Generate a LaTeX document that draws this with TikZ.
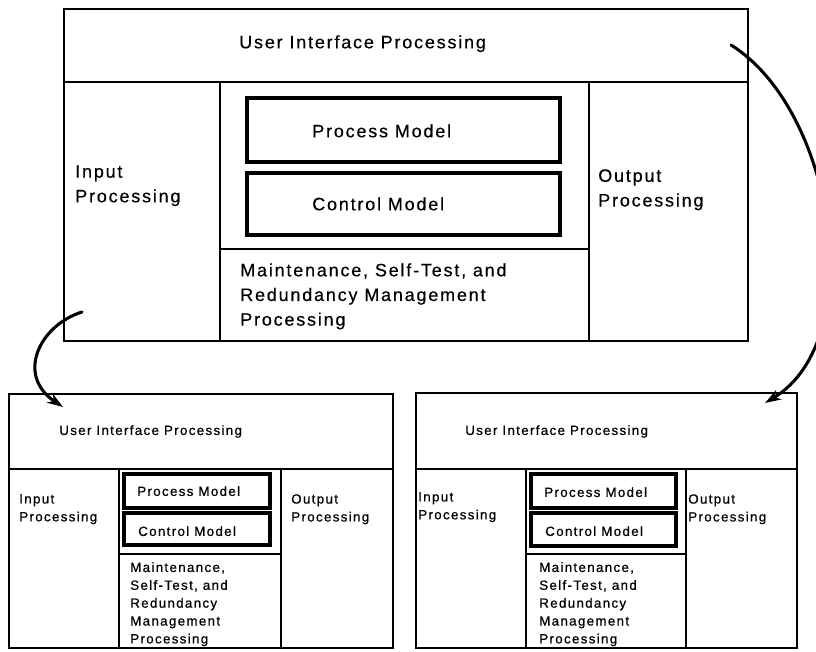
\documentclass[tikz,border=0pt]{standalone}
\usepackage{fontspec}
\setmainfont{Liberation Sans}[LetterSpace=10.0]
\newfontfamily\diagbig{Liberation Sans}[LetterSpace=10.0, FakeBold=0.4]
\newfontfamily\diagsmall{Liberation Sans}[LetterSpace=10.0, FakeBold=0.7]
\usetikzlibrary{fit,arrows.meta}
\begin{document}
\begin{tikzpicture}[x=0.75pt,y=-0.75pt,
  cell/.style={draw, line width=1.5pt, inner sep=0pt},
  model/.style={draw, line width=2.3pt, inner sep=0pt},
  bigtxt/.style={anchor=north west, inner sep=0pt, align=left,
    font=\diagbig\fontsize{13.5}{18.5}\selectfont},
  smalltxt/.style={anchor=north west, inner sep=0pt, align=left,
    font=\diagsmall\fontsize{10}{13.4}\selectfont},
  flow/.style={line width=2.3pt, line cap=round,
    -{Stealth[length=12pt,width=8pt]}}]
\useasboundingbox (0,0) rectangle (816,652);

% ---------- full-size software architecture ----------
\node[cell, fit={(64,9) (748,341)}] (A) {};
\node[cell, fit={(64,9) (748,82)}] (Aui) {};
\node[cell, fit={(64,82) (220,341)}] (Ain) {};
\node[cell, fit={(220,82) (589,249)}] (Acore) {};
\node[cell, fit={(220,249) (589,341)}] (Amnt) {};
\node[cell, fit={(589,82) (748,341)}] (Aout) {};
\node[model, fit={(247,98) (560,162)}] (Aproc) {};
\node[model, fit={(247,173) (560,235)}] (Actl) {};

\node[bigtxt] (Auit) at (239,35) {User Interface Processing};
\node[bigtxt] (Aint) at (75,165) {Input\\Processing};
\node[bigtxt] (Aoutt) at (598,169) {Output\\Processing};
\node[bigtxt] (Aproct) at (312,124) {Process Model};
\node[bigtxt] (Actlt) at (312,197) {Control Model};
\node[bigtxt] (Amntt) at (240,263) {Maintenance, Self-Test, and\\Redundancy Management\\Processing};

% ---------- left copy ----------
\node[cell, fit={(9,394) (393,648)}] (B) {};
\node[cell, fit={(9,394) (393,469)}] (Bui) {};
\node[cell, fit={(9,469) (119,648)}] (Bin) {};
\node[cell, fit={(119,469) (281,554)}] (Bcore) {};
\node[cell, fit={(119,554) (281,648)}] (Bmnt) {};
\node[cell, fit={(281,469) (393,648)}] (Bout) {};
\node[model, fit={(124,474) (270,508)}] (Bproc) {};
\node[model, fit={(124,513) (270,545)}] (Bctl) {};

\node[smalltxt] (Buit) at (59,425) {User Interface Processing};
\node[smalltxt] (Bint) at (19,494) {Input\\Processing};
\node[smalltxt] (Boutt) at (291,494) {Output\\Processing};
\node[smalltxt] (Bproct) at (137,486) {Process Model};
\node[smalltxt] (Bctlt) at (138,526) {Control Model};
\node[smalltxt] (Bmntt) at (130,562) {Maintenance,\\Self-Test, and\\Redundancy\\Management\\Processing};

% ---------- right copy ----------
\node[cell, fit={(416,393) (797,648)}] (C) {};
\node[cell, fit={(416,393) (797,469)}] (Cui) {};
\node[cell, fit={(416,469) (526,648)}] (Cin) {};
\node[cell, fit={(526,469) (686,554)}] (Ccore) {};
\node[cell, fit={(526,554) (686,648)}] (Cmnt) {};
\node[cell, fit={(686,469) (797,648)}] (Cout) {};
\node[model, fit={(531,474) (676,508)}] (Cproc) {};
\node[model, fit={(531,513) (676,546)}] (Cctl) {};

\node[smalltxt] (Cuit) at (465,425) {User Interface Processing};
\node[smalltxt] (Cint) at (418,492) {Input\\Processing};
\node[smalltxt] (Coutt) at (688,494) {Output\\Processing};
\node[smalltxt] (Cproct) at (544,487) {Process Model};
\node[smalltxt] (Cctlt) at (545,526) {Control Model};
\node[smalltxt] (Cmntt) at (539,562) {Maintenance,\\Self-Test, and\\Redundancy\\Management\\Processing};

% ---------- hand-drawn arrows to the copies ----------
\coordinate (s1) at (82,312);
\coordinate (t1) at (63,407);
\coordinate (s2) at (731,45);
\coordinate (t2) at (765,403);
\draw[flow] (s1) .. controls (40,325) and (15,375) .. (t1);
\draw[flow] (s2) .. controls (835,110) and (870,340) .. (t2);
\end{tikzpicture}
\end{document}
